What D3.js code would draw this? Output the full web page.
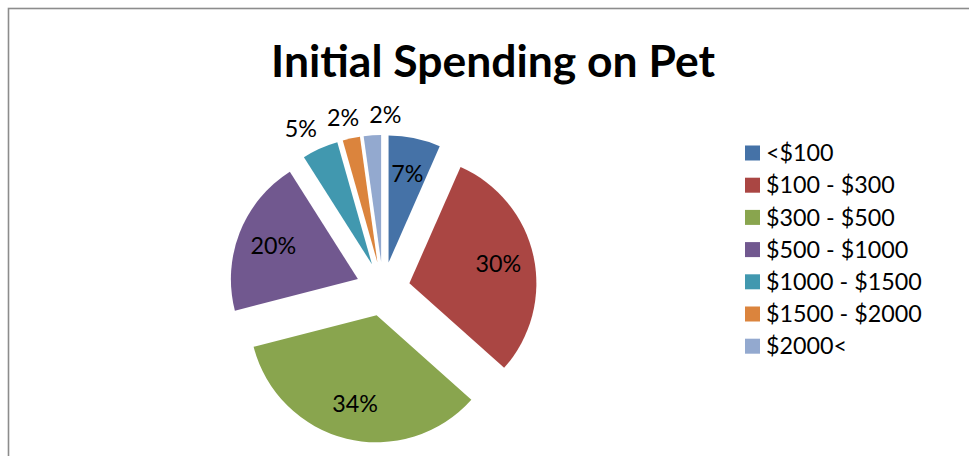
<!DOCTYPE html>
<html><head><meta charset="utf-8">
<script src="https://cdn.jsdelivr.net/npm/d3@7"></script>
<style>html,body{margin:0;padding:0;background:#fff;overflow:hidden}</style>
</head><body>
<svg id="c" width="969" height="456"></svg>
<script>
const chartTitle = "Initial Spending on Pet";
const categories = ["<$100", "$100 - $300", "$300 - $500", "$500 - $1000", "$1000 - $1500", "$1500 - $2000", "$2000<"];
const values = [6.6, 30.0, 34.4, 20.0, 4.6, 2.2, 2.2];
const colors = ["#4572A7", "#AA4643", "#89A54E", "#71588F", "#4198AF", "#DB843D", "#93A9CF"];

const W = 969, H = 456;
const FONT = "Lato, 'Open Sans', sans-serif";
const svg = d3.select("#c");

// chart border
svg.append("rect")
  .attr("x", 8.5).attr("y", 8.5).attr("width", W + 20).attr("height", H + 20)
  .attr("fill", "none").attr("stroke", "#8c8c8c").attr("stroke-width", 1.6);

// title, fitted to the target width
const titleEl = svg.append("text")
  .attr("x", 493).attr("y", 77)
  .attr("text-anchor", "middle")
  .attr("font-family", FONT).attr("font-weight", "bold")
  .attr("font-size", 44).attr("fill", "#000")
  .text(chartTitle);
const tw = titleEl.node().getComputedTextLength();
titleEl.attr("font-size", 44 * 444 / tw);

// pie
const cx = 383, cy = 289, R = 127, EX = 27;
const total = d3.sum(values);
const pieData = d3.pie().sort(null).value(d => d)(values);
const arc = d3.arc().innerRadius(0).outerRadius(R);
const g = svg.append("g").attr("transform", `translate(${cx},${cy})`);

pieData.forEach((d, i) => {
  const mid = (d.startAngle + d.endAngle) / 2;
  d.mid = mid;
  d.ox = Math.sin(mid) * EX;
  d.oy = -Math.cos(mid) * EX;
});

g.selectAll("path.slice").data(pieData).join("path")
  .attr("class", "slice")
  .attr("transform", d => `translate(${d.ox},${d.oy})`)
  .attr("d", arc)
  .attr("fill", (d, i) => colors[i]);

// labels
const LBL = 23.3;
const labels = pieData.map((d, i) => {
  const pct = Math.round(d.data / total * 100) + "%";
  const inside = d.data / total >= 0.06;
  const rr = inside ? 91 : 148;
  return {
    text: pct, inside, mid: d.mid,
    x: d.ox + Math.sin(d.mid) * rr,
    y: d.oy - Math.cos(d.mid) * rr
  };
});

const lblSel = g.selectAll("text.lbl").data(labels).join("text")
  .attr("class", "lbl")
  .attr("text-anchor", "middle")
  .attr("dy", "0.35em")
  .attr("font-family", FONT).attr("font-size", LBL).attr("fill", "#000")
  .text(d => d.text);

// measure widths and spread outside labels horizontally to avoid overlap
lblSel.each(function(d) { d.w = this.getComputedTextLength(); });
const outs = labels.filter(d => !d.inside).sort((a, b) => a.x - b.x);
for (let it = 0; it < 60; it++) {
  for (let k = 0; k < outs.length - 1; k++) {
    const a = outs[k], b = outs[k + 1];
    const need = a.w / 2 + b.w / 2 + 10;
    const gap = b.x - a.x;
    if (gap < need) {
      const push = (need - gap) / 2;
      a.x -= push; b.x += push;
    }
  }
}
lblSel.attr("x", d => d.x).attr("y", d => d.y);

// legend
const lg = svg.append("g").attr("transform", "translate(745,153)");
const rows = lg.selectAll("g").data(categories).join("g")
  .attr("transform", (d, i) => `translate(0,${i * 32.2})`);
rows.append("rect")
  .attr("x", 0).attr("y", -7.5).attr("width", 15).attr("height", 15)
  .attr("fill", (d, i) => colors[i]);
rows.append("text")
  .attr("x", 21).attr("dy", "0.35em")
  .attr("font-family", FONT).attr("font-size", LBL).attr("fill", "#000")
  .text(d => d);
</script>
</body></html>
